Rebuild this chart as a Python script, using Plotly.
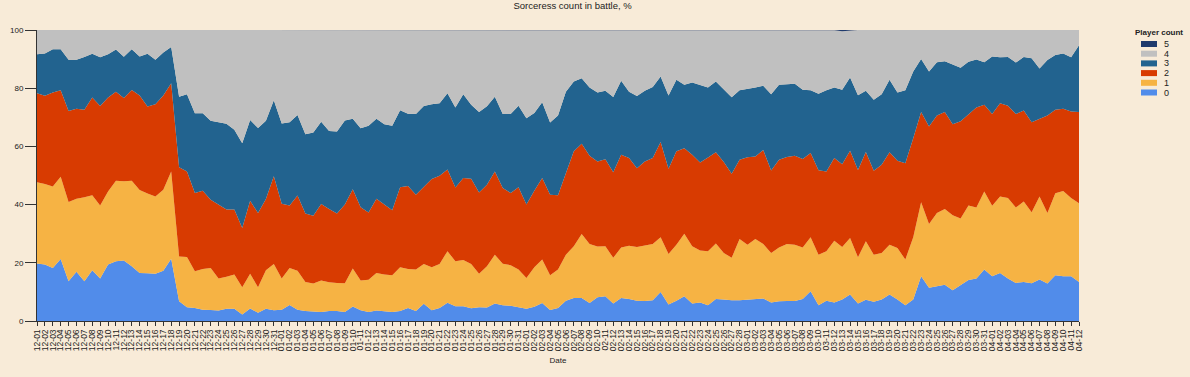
import datetime as dt
import plotly.graph_objects as go

start = dt.date(2020, 12, 1)
dates = [(start + dt.timedelta(days=i)).strftime("%m-%d") for i in range(133)]

p0 = [19.8, 19.4, 18.2, 21.3, 13.7, 16.9, 13.7, 17.4, 14.6, 19.4, 20.5, 20.8, 18.8, 16.5, 16.4, 16.2, 17.3, 21.4,
      6.8, 4.7, 4.5, 3.9, 3.8, 3.6, 4.2, 4.2, 2.2, 4.3, 2.8, 4.2, 3.7, 3.9, 5.5, 3.9, 3.4, 3.3, 3.1, 3.4, 3.4, 3.1,
      5.0, 3.7, 3.1, 3.6, 3.4, 3.1, 3.4, 4.5, 3.4, 5.9, 3.7, 4.5, 6.3, 5.1, 5.1, 4.4, 4.7, 4.6, 6.0, 5.4, 5.2, 4.7,
      4.2, 4.9, 6.2, 3.8, 4.5, 7.0, 7.9, 7.9, 6.2, 8.2, 8.5, 6.0, 7.9, 7.6, 7.0, 6.9, 7.1, 10.0, 5.7, 7.0, 8.5, 6.0,
      6.4, 5.4, 7.6, 7.4, 7.1, 7.1, 7.3, 7.6, 7.7, 6.4, 6.8, 6.9, 6.9, 7.6, 10.2, 5.4, 7.0, 6.4, 7.4, 9.1, 6.0, 7.3,
      6.6, 7.4, 9.1, 7.4, 5.4, 7.4, 15.4, 11.4, 11.9, 12.5, 10.6, 12.5, 14.1, 14.6, 17.7, 15.4, 16.5, 14.6, 13.1,
      13.4, 13.0, 14.3, 12.9, 15.7, 15.4, 15.4, 13.4]
p1 = [27.9, 27.7, 28.0, 28.3, 27.2, 25.1, 28.8, 25.8, 25.1, 25.1, 27.7, 27.2, 29.4, 28.5, 27.4, 26.6, 27.8, 30.0,
      15.4, 17.3, 12.6, 14.0, 14.4, 11.0, 11.0, 11.8, 9.4, 11.9, 8.8, 13.2, 15.9, 10.7, 12.7, 13.4, 10.0, 9.6, 10.8,
      9.9, 9.7, 9.9, 13.0, 10.2, 11.1, 12.9, 12.6, 12.6, 15.1, 13.4, 14.3, 13.7, 14.8, 15.1, 17.7, 15.4, 15.9, 15.2,
      11.5, 14.2, 16.8, 14.3, 14.0, 13.0, 10.6, 13.6, 14.9, 11.9, 13.2, 15.8, 17.8, 22.0, 20.3, 17.4, 17.2, 15.7,
      17.4, 18.3, 18.4, 19.0, 19.4, 18.8, 17.3, 19.2, 21.5, 19.7, 17.8, 18.6, 19.0, 16.0, 14.6, 21.1, 18.9, 20.6,
      18.8, 17.0, 18.5, 19.6, 19.3, 17.7, 18.6, 17.4, 17.0, 21.2, 18.0, 19.4, 15.9, 20.1, 16.2, 16.0, 17.1, 17.7,
      15.7, 21.4, 25.4, 21.9, 25.2, 26.0, 25.7, 22.7, 25.6, 24.4, 26.8, 24.2, 26.3, 27.7, 25.9, 27.7, 24.4, 28.5,
      24.2, 28.2, 29.3, 26.9, 27.1]
p2 = [30.6, 30.3, 32.3, 29.7, 31.3, 30.9, 30.1, 33.6, 34.2, 32.3, 30.6, 28.6, 31.2, 32.5, 29.9, 31.7, 32.4, 30.3,
      30.6, 29.4, 26.9, 26.9, 23.5, 25.4, 23.1, 22.3, 20.4, 25.1, 25.5, 24.5, 30.1, 25.7, 21.5, 25.8, 23.5, 23.3,
      26.3, 25.2, 23.8, 27.0, 27.3, 25.2, 23.1, 25.5, 24.2, 22.4, 27.5, 28.5, 25.7, 26.5, 30.3, 30.3, 28.1, 25.4,
      28.1, 29.3, 28.0, 28.0, 28.6, 26.0, 24.8, 28.3, 25.2, 26.3, 28.0, 27.7, 25.5, 28.0, 32.6, 31.0, 30.3, 29.2,
      29.9, 29.4, 31.8, 30.1, 27.1, 28.9, 29.5, 32.7, 29.3, 32.1, 29.4, 31.4, 30.3, 32.2, 31.4, 31.2, 28.9, 27.2,
      30.1, 28.3, 32.3, 28.3, 30.1, 29.9, 30.6, 30.4, 28.9, 29.0, 27.4, 28.4, 28.5, 30.0, 30.0, 30.7, 28.8, 30.3,
      31.8, 30.0, 33.1, 34.0, 31.0, 33.5, 33.5, 33.3, 31.3, 33.4, 31.4, 34.4, 29.8, 31.5, 32.0, 31.7, 32.1, 31.2,
      30.9, 26.7, 33.5, 28.7, 28.2, 29.7, 31.3]
p3 = [13.4, 14.5, 14.9, 14.1, 17.6, 16.9, 18.1, 15.0, 16.7, 14.9, 14.5, 14.2, 14.0, 13.4, 18.1, 15.3, 14.8, 12.5,
      24.3, 26.5, 27.4, 26.6, 27.1, 28.3, 29.5, 27.4, 29.1, 27.8, 29.2, 26.9, 26.2, 27.6, 28.6, 27.7, 27.3, 28.6,
      28.3, 26.8, 28.2, 28.9, 24.2, 27.1, 29.8, 27.5, 27.4, 29.0, 26.4, 24.8, 27.7, 27.8, 25.7, 24.9, 26.2, 27.5,
      28.8, 25.4, 27.6, 27.0, 25.7, 25.4, 27.1, 28.0, 29.7, 26.7, 26.1, 24.8, 27.4, 28.0, 24.0, 22.5, 23.4, 23.7,
      23.5, 25.9, 25.5, 22.8, 24.8, 24.3, 24.4, 22.5, 25.2, 24.6, 21.8, 24.9, 26.7, 24.0, 24.3, 24.9, 26.3, 23.9,
      23.4, 23.7, 22.0, 26.2, 25.8, 25.0, 24.7, 23.8, 21.6, 26.3, 27.9, 24.2, 25.6, 25.2, 25.7, 21.0, 24.4, 24.2,
      24.9, 23.4, 25.1, 22.9, 18.2, 18.9, 18.3, 17.5, 20.6, 18.4, 18.0, 16.5, 14.6, 19.8, 15.8, 16.7, 17.7, 18.4,
      22.0, 17.3, 19.1, 18.8, 19.0, 18.6, 23.0]
p5 = [0.0] * 133
p5[101] = 0.1
p5[102] = 0.4
p5[103] = 0.1
p4 = [round(100 - a - b - c - d - e, 1) for a, b, c, d, e in zip(p0, p1, p2, p3, p5)]

names = ["0", "1", "2", "3", "4", "5"]
values = [p0, p1, p2, p3, p4, p5]
colors = ["#518cea", "#f6b344", "#d83b01", "#22638f", "#c0c0c0", "#1f3a6c"]

fig = go.Figure()
for name, vals, color in zip(names, values, colors):
    fig.add_trace(go.Scatter(
        x=dates, y=vals, name=name, mode="lines", stackgroup="one",
        line=dict(width=0, color=color), fillcolor=color, showlegend=False,
    ))

# Compact legend (top-right), placed in paper coordinates
L, R, T, B = 37, 1079, 30, 321
def px(x): return (x - L) / (R - L)
def py(y): return (B - y) / (B - T)

fig.add_annotation(text="<b>Player count</b>", x=px(1133), y=py(33), xref="paper", yref="paper",
                   xanchor="left", yanchor="middle", showarrow=False, font=dict(size=8, color="#222"))
for k, name in enumerate(reversed(names)):
    color = colors[len(names) - 1 - k]
    yc = 44 + k * 9.7
    fig.add_shape(type="rect", xref="paper", yref="paper", x0=px(1141), x1=px(1157),
                  y0=py(yc - 3), y1=py(yc + 3), fillcolor=color, line=dict(width=0))
    fig.add_annotation(text=name, x=px(1162), y=py(yc), xref="paper", yref="paper",
                       xanchor="left", yanchor="middle", showarrow=False, font=dict(size=9, color="#222"))

font = "Liberation Sans, Arial, sans-serif"
bg = "#f8ebd8"
fig.update_layout(
    width=1190, height=377,
    paper_bgcolor=bg, plot_bgcolor=bg,
    margin=dict(l=L, r=1190 - R, t=T, b=377 - B, autoexpand=False),
    font=dict(family=font, size=10, color="#222"),
    title=dict(text="Sorceress count in battle, %", x=0.514, xref="paper", y=1 - 6 / 377,
               yref="container", yanchor="middle", font=dict(size=9.5, color="#222")),
    showlegend=False,
    xaxis=dict(type="category", range=[0, 132], tickmode="array", tickvals=dates, ticktext=dates,
               tickangle=-90, ticks="outside", ticklen=4, automargin=False,
               tickcolor="#333", showline=True, linecolor="#333", showgrid=False, zeroline=False,
               tickfont=dict(size=8.5, color="#222"), title=dict(text="Date", font=dict(size=8), standoff=7)),
    yaxis=dict(range=[0, 100], tickvals=[0, 20, 40, 60, 80, 100], ticks="outside", ticklen=11,
               automargin=False,
               tickcolor="#333", showline=True, linecolor="#333", showgrid=False, zeroline=False,
               tickfont=dict(size=8)),
)
fig.write_html("out.html", config={"displayModeBar": False},
               post_script="document.body.style.margin='0';document.body.style.background='%s';" % bg)
